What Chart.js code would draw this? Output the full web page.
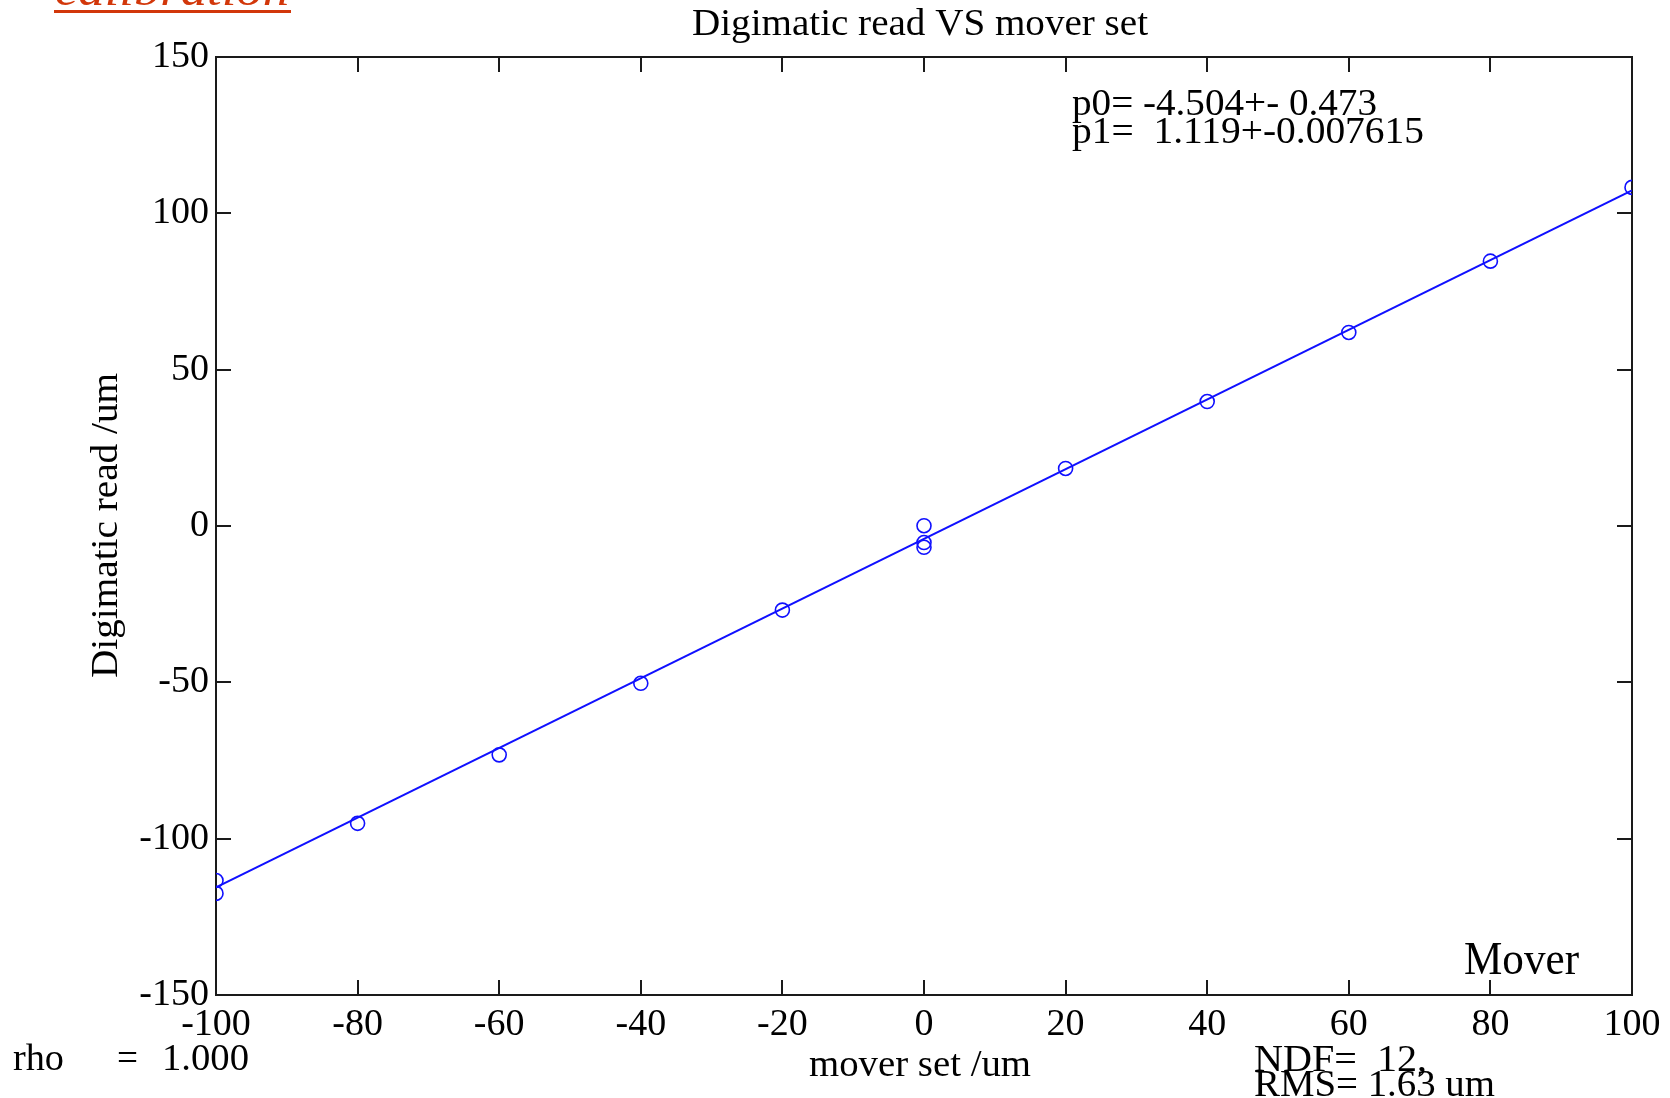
<!DOCTYPE html>
<html>
<head>
<meta charset="utf-8">
<title>Digimatic read VS mover set</title>
<script src="https://cdn.jsdelivr.net/npm/chart.js@4.4.1/dist/chart.umd.min.js"></script>
<style>
    html, body { margin: 0; padding: 0; background: #fff; }
    canvas { display: block; }
</style>
</head>
<body>
<canvas id="calib-chart" width="1670" height="1098"></canvas>
<script>
(function() {
    'use strict';

    // Measured points (mover set vs digimatic read, um)
    const moverSet = [-100, -100, -80, -60, -40, -20, 0, 0, 0, 20, 40, 60, 80, 100];
    const digiRead = [-113.4, -117.5, -95.1, -73.2, -50.3, -26.9, 0.1, -5.3, -6.8, 18.4, 39.8, 61.9, 84.7, 108.3];

    // Fitted straight line, end points
    const fitX = [-100, 100];
    const fitY = [-115.6, 107.3];

    // Axis ranges / tick steps
    const xRange = [-100, 100];
    const xStep = 20;
    const yRange = [-150, 150];
    const yStep = 50;

    const SERIF = '"Liberation Serif", "Times New Roman", serif';
    const BLUE = '#1010ff';
    const AXIS = '#1a1a1a';

    // Draw text fitted to a given width (the old PAW fonts are a bit wider)
    function fitText(ctx, str, x, y, size, width, opts) {
        opts = opts || {};
        ctx.save();
        ctx.font = (opts.italic ? 'italic ' : '') + size + 'px ' + SERIF;
        const natural = ctx.measureText(str).width;
        ctx.translate(x, y);
        if (opts.rotate) ctx.rotate(-Math.PI / 2);
        ctx.scale(width / natural, 1);
        ctx.fillStyle = opts.color || '#000';
        ctx.textAlign = 'left';
        ctx.textBaseline = 'alphabetic';
        ctx.fillText(str, 0, 0);
        ctx.restore();
    }

    // Frame with inward ticks on all four sides
    const framePlugin = {
        id: 'frame',
        beforeDatasetsDraw(chart) {
            const ctx = chart.ctx;
            const a = chart.chartArea;
            const xs = chart.scales.x;
            const ys = chart.scales.y;
            const len = 15;

            ctx.save();
            ctx.strokeStyle = AXIS;
            ctx.lineWidth = 2;
            ctx.strokeRect(a.left, a.top, a.right - a.left, a.bottom - a.top);

            ctx.beginPath();
            xs.ticks.forEach(t => {
                const px = Math.round(xs.getPixelForValue(t.value));
                ctx.moveTo(px, a.bottom); ctx.lineTo(px, a.bottom - len);
                ctx.moveTo(px, a.top); ctx.lineTo(px, a.top + len);
            });
            ys.ticks.forEach(t => {
                const py = Math.round(ys.getPixelForValue(t.value));
                ctx.moveTo(a.left, py); ctx.lineTo(a.left + len, py);
                ctx.moveTo(a.right, py); ctx.lineTo(a.right - len, py);
            });
            ctx.stroke();
            ctx.restore();
        },
        afterDraw(chart) {
            const ctx = chart.ctx;

            // Page heading, cut off at the top
            fitText(ctx, 'calibration', 55, 5, 44, 234, { italic: true, color: '#d2370a' });
            ctx.fillStyle = '#d2370a';
            ctx.fillRect(54, 10, 237, 3);

            // Title and axis titles
            fitText(ctx, 'Digimatic read VS mover set', 692, 35, 38, 456);
            fitText(ctx, 'mover set /um', 809, 1076, 38, 222);
            fitText(ctx, 'Digimatic read /um', 117, 678, 38, 305, { rotate: true });

            // Fit results
            fitText(ctx, 'p0= -4.504+- 0.473', 1072, 115, 38, 305);
            fitText(ctx, 'p1=  1.119+-0.007615', 1072, 143, 38, 352);

            fitText(ctx, 'Mover', 1464, 974, 47, 115);

            fitText(ctx, 'rho', 13, 1070, 38, 51);
            fitText(ctx, '=', 117, 1070, 38, 21);
            fitText(ctx, '1.000', 162, 1070, 38, 87);

            fitText(ctx, 'NDF=  12,', 1254, 1071, 38, 173);
            fitText(ctx, 'RMS= 1.63 um', 1254, 1096, 38, 241);
        }
    };

    const tickFont = { family: SERIF, size: 38 };

    const ctx = document.getElementById('calib-chart').getContext('2d');
    new Chart(ctx, {
        type: 'scatter',
        data: {
            datasets: [{
                label: 'fit',
                data: fitX.map((x, i) => ({ x: x, y: fitY[i] })),
                showLine: true,
                borderColor: BLUE,
                borderWidth: 2,
                pointRadius: 0,
                fill: false
            }, {
                label: 'Mover',
                data: moverSet.map((x, i) => ({ x: x, y: digiRead[i] })),
                showLine: false,
                pointStyle: 'circle',
                pointRadius: 7,
                pointBorderWidth: 1.6,
                borderColor: BLUE,
                backgroundColor: 'rgba(0,0,0,0)'
            }]
        },
        options: {
            responsive: false,
            animation: false,
            layout: {
                padding: { top: 57, right: 38, left: 0, bottom: 0 }
            },
            plugins: {
                legend: { display: false },
                tooltip: { enabled: false }
            },
            scales: {
                x: {
                    type: 'linear',
                    min: xRange[0],
                    max: xRange[1],
                    ticks: {
                        stepSize: xStep,
                        autoSkip: false,
                        maxRotation: 0,
                        padding: 7,
                        color: '#000',
                        font: tickFont
                    },
                    grid: { display: false, drawTicks: false },
                    border: { display: false },
                    afterFit: function(scale) { scale.height = 103; }
                },
                y: {
                    type: 'linear',
                    min: yRange[0],
                    max: yRange[1],
                    ticks: {
                        stepSize: yStep,
                        autoSkip: false,
                        padding: 7,
                        color: '#000',
                        font: tickFont
                    },
                    grid: { display: false, drawTicks: false },
                    border: { display: false },
                    afterFit: function(scale) { scale.width = 216; }
                }
            }
        },
        plugins: [framePlugin]
    });
})();
</script>
</body>
</html>
